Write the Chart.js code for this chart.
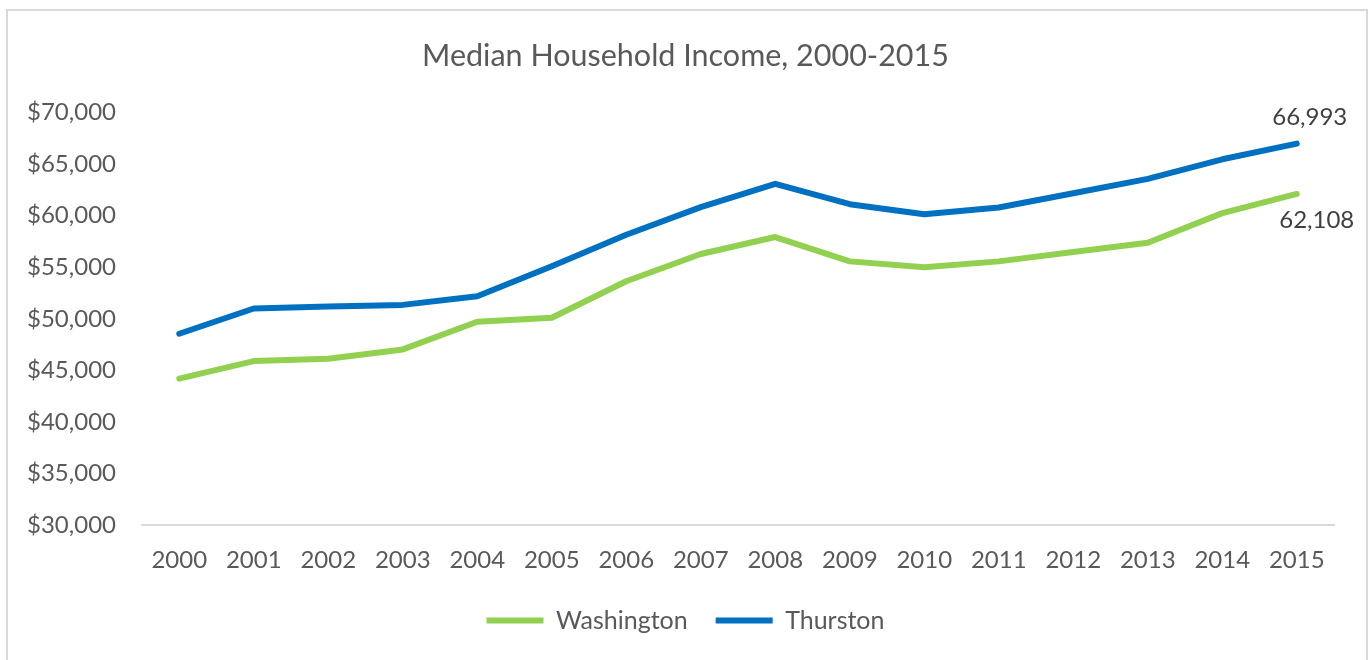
<!DOCTYPE html>
<html lang="en">
<head>
    <meta charset="UTF-8">
    <title>Median Household Income, 2000-2015</title>
    <script src="https://cdn.jsdelivr.net/npm/chart.js@4.4.0/dist/chart.umd.min.js"></script>
    <style>
        body {
            margin: 0;
            background: #ffffff;
        }

        .frame {
            position: absolute;
            left: 6px;
            top: 9px;
            width: 1362px;
            height: 660px;
            box-sizing: border-box;
            border: 2px solid #d9d9d9;
            border-bottom: none;
        }

        #incomeChart {
            position: absolute;
            left: 0;
            top: 0;
        }
    </style>
</head>
<body>
    <div class="frame"></div>
    <canvas id="incomeChart" width="1371" height="660"></canvas>

    <script>
        const years = ['2000', '2001', '2002', '2003', '2004', '2005', '2006', '2007',
                       '2008', '2009', '2010', '2011', '2012', '2013', '2014', '2015'];
        const washington = [44200, 45900, 46130, 47030, 49710, 50100, 53640, 56290,
                            57930, 55570, 54990, 55570, 56480, 57380, 60250, 62108];
        const thurston = [48550, 51000, 51200, 51350, 52190, 55090, 58150, 60830,
                          63090, 61120, 60150, 60800, 62180, 63570, 65470, 66993];
        const yMin = 30000;
        const yMax = 70000;
        const yStep = 5000;

        const FONT = 'Lato, "Open Sans", sans-serif';
        const GREY = '#595959';

        // label on the last point of each line
        const endLabels = {
            id: 'endLabels',
            afterDatasetsDraw(chart) {
                const ctx = chart.ctx;
                const offsets = [[20, 26], [13, -26]];
                ctx.save();
                ctx.font = '24px ' + FONT;
                ctx.fillStyle = '#404040';
                ctx.textAlign = 'center';
                ctx.textBaseline = 'middle';
                chart.data.datasets.forEach((ds, i) => {
                    const pts = chart.getDatasetMeta(i).data;
                    const last = pts[pts.length - 1];
                    const v = ds.data[ds.data.length - 1];
                    ctx.fillText(v.toLocaleString('en-US'), last.x + offsets[i][0], last.y + offsets[i][1]);
                });
                ctx.restore();
            }
        };

        new Chart(document.getElementById('incomeChart'), {
            type: 'line',
            data: {
                labels: years,
                datasets: [{
                    label: 'Washington',
                    data: washington,
                    borderColor: '#92d050',
                    backgroundColor: '#92d050',
                    borderWidth: 6,
                    borderCapStyle: 'round'
                }, {
                    label: 'Thurston',
                    data: thurston,
                    borderColor: '#0070c0',
                    backgroundColor: '#0070c0',
                    borderWidth: 6,
                    borderCapStyle: 'round'
                }]
            },
            options: {
                responsive: false,
                animation: false,
                layout: {
                    padding: { top: 0, right: 0, bottom: 17, left: 0 }
                },
                elements: {
                    line: {
                        tension: 0,
                        borderJoinStyle: 'round'
                    },
                    point: { radius: 0, hoverRadius: 0 }
                },
                scales: {
                    x: {
                        offset: true,
                        grid: { display: false, drawTicks: false },
                        border: { display: true, color: '#d9d9d9', width: 2 },
                        ticks: {
                            color: GREY,
                            font: { family: FONT, size: 24 },
                            padding: 21,
                            maxRotation: 0
                        },
                        afterFit(s) { s.height = 55; }
                    },
                    y: {
                        min: yMin,
                        max: yMax,
                        grid: { display: false, drawTicks: false },
                        border: { display: false },
                        ticks: {
                            stepSize: yStep,
                            color: GREY,
                            font: { family: FONT, size: 24 },
                            padding: 26,
                            callback: v => '$' + v.toLocaleString('en-US')
                        },
                        afterFit(s) { s.width = 142; }
                    },
                    // empty right axis, only keeps the right margin
                    spacer: {
                        position: 'right',
                        grid: { display: false, drawTicks: false },
                        border: { display: false },
                        ticks: { display: false },
                        afterFit(s) { s.width = 37; }
                    }
                },
                plugins: {
                    title: {
                        display: true,
                        text: 'Median Household Income, 2000-2015',
                        color: GREY,
                        font: { family: FONT, size: 30.5, weight: 'normal' },
                        padding: { top: 38, bottom: 38 }
                    },
                    legend: {
                        position: 'bottom',
                        labels: {
                            color: GREY,
                            font: { family: FONT, size: 25 },
                            usePointStyle: true,
                            pointStyle: 'line',
                            pointStyleWidth: 57,
                            boxHeight: 6,
                            padding: 28
                        }
                    },
                    tooltip: { enabled: false }
                }
            },
            plugins: [endLabels]
        });
    </script>
</body>
</html>
